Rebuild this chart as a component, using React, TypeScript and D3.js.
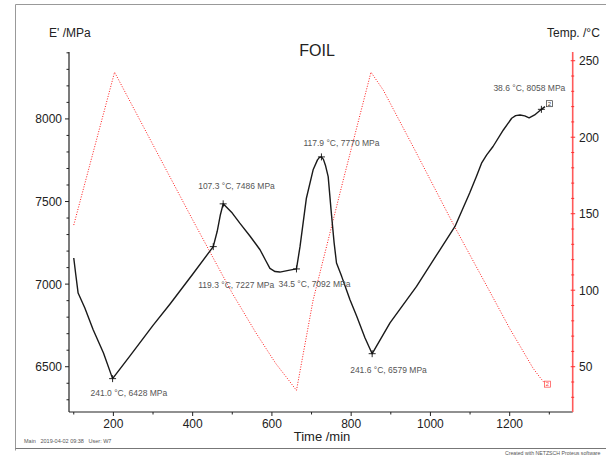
import React from "react";
import * as d3 from "d3";

// Storage modulus E' (MPa) versus time (min)
const modTime = [100, 105, 111, 128, 149, 175, 198, 240, 300, 343, 400, 452, 462, 470, 477, 500, 519, 545, 570, 585, 595, 608, 620, 645, 662, 671, 687, 704, 715, 720, 725, 730, 735, 742, 750, 757, 763, 776, 788, 797, 814, 835, 853, 898, 965, 1024, 1062, 1099, 1116, 1129, 1142, 1158, 1184, 1205, 1215, 1226, 1238, 1249, 1263, 1280, 1289];
const modValue = [7158, 7060, 6946, 6855, 6724, 6583, 6428, 6560, 6750, 6880, 7060, 7227, 7320, 7420, 7486, 7430, 7369, 7290, 7208, 7140, 7095, 7076, 7073, 7085, 7092, 7228, 7520, 7692, 7752, 7767, 7770, 7755, 7720, 7651, 7430, 7250, 7128, 7047, 6966, 6906, 6805, 6674, 6579, 6765, 6986, 7208, 7349, 7551, 7651, 7732, 7782, 7833, 7933, 8004, 8020, 8024, 8018, 8006, 8024, 8058, 8074];

// Sample temperature (°C) versus time (min)
const tempTime = [100, 203, 300, 400, 452, 500, 560, 610, 640, 662, 704, 780, 850, 881, 960, 1061, 1150, 1200, 1225, 1259, 1275, 1290];
const tempValue = [142.6, 242.5, 195, 146, 121, 98, 72, 52, 42, 34.5, 93.6, 172, 242.5, 230.8, 192, 141.5, 99, 75, 64, 49, 43.5, 38.6];

// Evaluated points: time, temperature label, modulus
const peakTime = [198, 452, 477, 662, 725, 853, 1280];
const peakTemp = ["241.0", "119.3", "107.3", "34.5", "117.9", "241.6", "38.6"];
const peakMod = [6428, 7227, 7486, 7092, 7770, 6579, 8058];
// label offsets relative to the point (dx, dy)
const peakDx = [-22, -15, -25, -18, -18, -22, -48];
const peakDy = [17, 41, -15, 18, -11, 19, -18];

const timeTicks = d3.range(100, 1301, 100);
const modTicks = d3.range(6300, 8401, 100);
const tempTicks = d3.range(30, 251, 10);

const FONT = "'Liberation Sans', Arial, sans-serif";

export default function App() {
  const x = d3.scaleLinear().domain([88, 1359]).range([69, 572.7]);
  const yE = d3.scaleLinear().domain([6226, 8405]).range([412, 52]);
  const yT = d3.scaleLinear().domain([20.4, 255.7]).range([412, 52]);

  const modLine = d3
    .line<number>()
    .x((_, i) => x(modTime[i]))
    .y((d) => yE(d))
    .curve(d3.curveLinear);
  const tempLine = d3
    .line<number>()
    .x((_, i) => x(tempTime[i]))
    .y((d) => yT(d))
    .curve(d3.curveLinear);

  const lastModX = x(modTime[modTime.length - 1]);
  const lastModY = yE(modValue[modValue.length - 1]);
  const lastTempX = x(tempTime[tempTime.length - 1]);
  const lastTempY = yT(tempValue[tempValue.length - 1]);

  return (
    <svg
      width={606}
      height={456}
      style={{ position: "absolute", left: 0, top: 0, background: "#fff" }}
      fontFamily={FONT}
    >
      {/* page frame */}
      <line x1={15.5} y1={4.5} x2={606} y2={4.5} stroke="#999" />
      <line x1={15.5} y1={4.5} x2={15.5} y2={450.5} stroke="#999" />
      <line x1={15.5} y1={448.5} x2={606} y2={448.5} stroke="#777" />

      {/* titles */}
      <text x={317} y={56} fontSize={16} textAnchor="middle" fill="#222">FOIL</text>
      <text x={49} y={37} fontSize={12} fill="#222">E' /MPa</text>
      <text x={547} y={37} fontSize={12} fill="#222">Temp. /°C</text>
      <text x={322} y={441} fontSize={13} textAnchor="middle" fill="#222">Time /min</text>

      {/* left axis */}
      <line x1={69} y1={52} x2={69} y2={412} stroke="#222" strokeWidth={1.2} />
      {modTicks.map((v) => {
        const major = v % 500 === 0;
        return (
          <g key={"m" + v}>
            <line x1={69 - (major ? 4 : 2.5)} x2={69} y1={yE(v)} y2={yE(v)} stroke="#222" />
            {major && (
              <text x={62} y={yE(v) + 4.5} fontSize={12} textAnchor="end" fill="#222">{v}</text>
            )}
          </g>
        );
      })}

      {/* bottom axis */}
      <line x1={69} y1={412} x2={572.7} y2={412} stroke="#222" strokeWidth={1.2} />
      {timeTicks.map((v) => {
        const major = v % 200 === 0;
        return (
          <g key={"t" + v}>
            <line x1={x(v)} x2={x(v)} y1={412} y2={major ? 416 : 414.5} stroke="#222" />
            {major && (
              <text x={x(v)} y={428} fontSize={12} textAnchor="middle" fill="#222">{v}</text>
            )}
          </g>
        );
      })}

      {/* right axis */}
      <line x1={572.7} y1={52} x2={572.7} y2={412} stroke="#ff5a5a" strokeWidth={1.6} />
      {tempTicks.map((v) => {
        const major = v % 50 === 0;
        return (
          <g key={"c" + v}>
            <line x1={572.7 - (major ? 2 : 1.5)} x2={572.7 + (major ? 2.5 : 1.5)} y1={yT(v)} y2={yT(v)} stroke="#ff3030" />
            {major && (
              <text x={579} y={yT(v) + 4.5} fontSize={12} fill="#222">{v}</text>
            )}
          </g>
        );
      })}

      {/* temperature curve */}
      <path d={tempLine(tempValue) || ""} fill="none" stroke="#ff1a1a" strokeWidth={1} strokeDasharray="1 1.6" />
      <rect x={lastTempX - 1} y={lastTempY - 3} width={6} height={6} fill="#fff" stroke="#ff4040" strokeWidth={0.7} />
      <text x={lastTempX + 2} y={lastTempY + 2.2} fontSize={6} textAnchor="middle" fill="#ff4040">2</text>

      {/* modulus curve */}
      <path d={modLine(modValue) || ""} fill="none" stroke="#1a1a1a" strokeWidth={1.4} strokeLinejoin="round" />
      <rect x={lastModX + 1.5} y={lastModY - 6} width={6} height={6} fill="#fff" stroke="#333" strokeWidth={0.7} />
      <text x={lastModX + 4.5} y={lastModY - 0.8} fontSize={6} textAnchor="middle" fill="#333">2</text>

      {/* evaluated points */}
      {peakTime.map((t, i) => {
        const px = x(t);
        const py = yE(peakMod[i]);
        return (
          <g key={"p" + i}>
            <line x1={px - 3.5} x2={px + 3.5} y1={py} y2={py} stroke="#111" strokeWidth={0.9} />
            <line x1={px} x2={px} y1={py - 3.5} y2={py + 3.5} stroke="#111" strokeWidth={0.9} />
            <text x={px + peakDx[i]} y={py + peakDy[i]} fontSize={8.5} fill="#555">
              {`${peakTemp[i]} °C, ${peakMod[i]} MPa`}
            </text>
          </g>
        );
      })}

      {/* footer */}
      <text x={24} y={443} fontSize={5.5} fill="#555">Main&#160;&#160;&#160;2019-04-02 09:38&#160;&#160;&#160;User: W7</text>
      <text x={505} y={454.5} fontSize={5.2} fill="#555">Created with NETZSCH Proteus software</text>
    </svg>
  );
}
